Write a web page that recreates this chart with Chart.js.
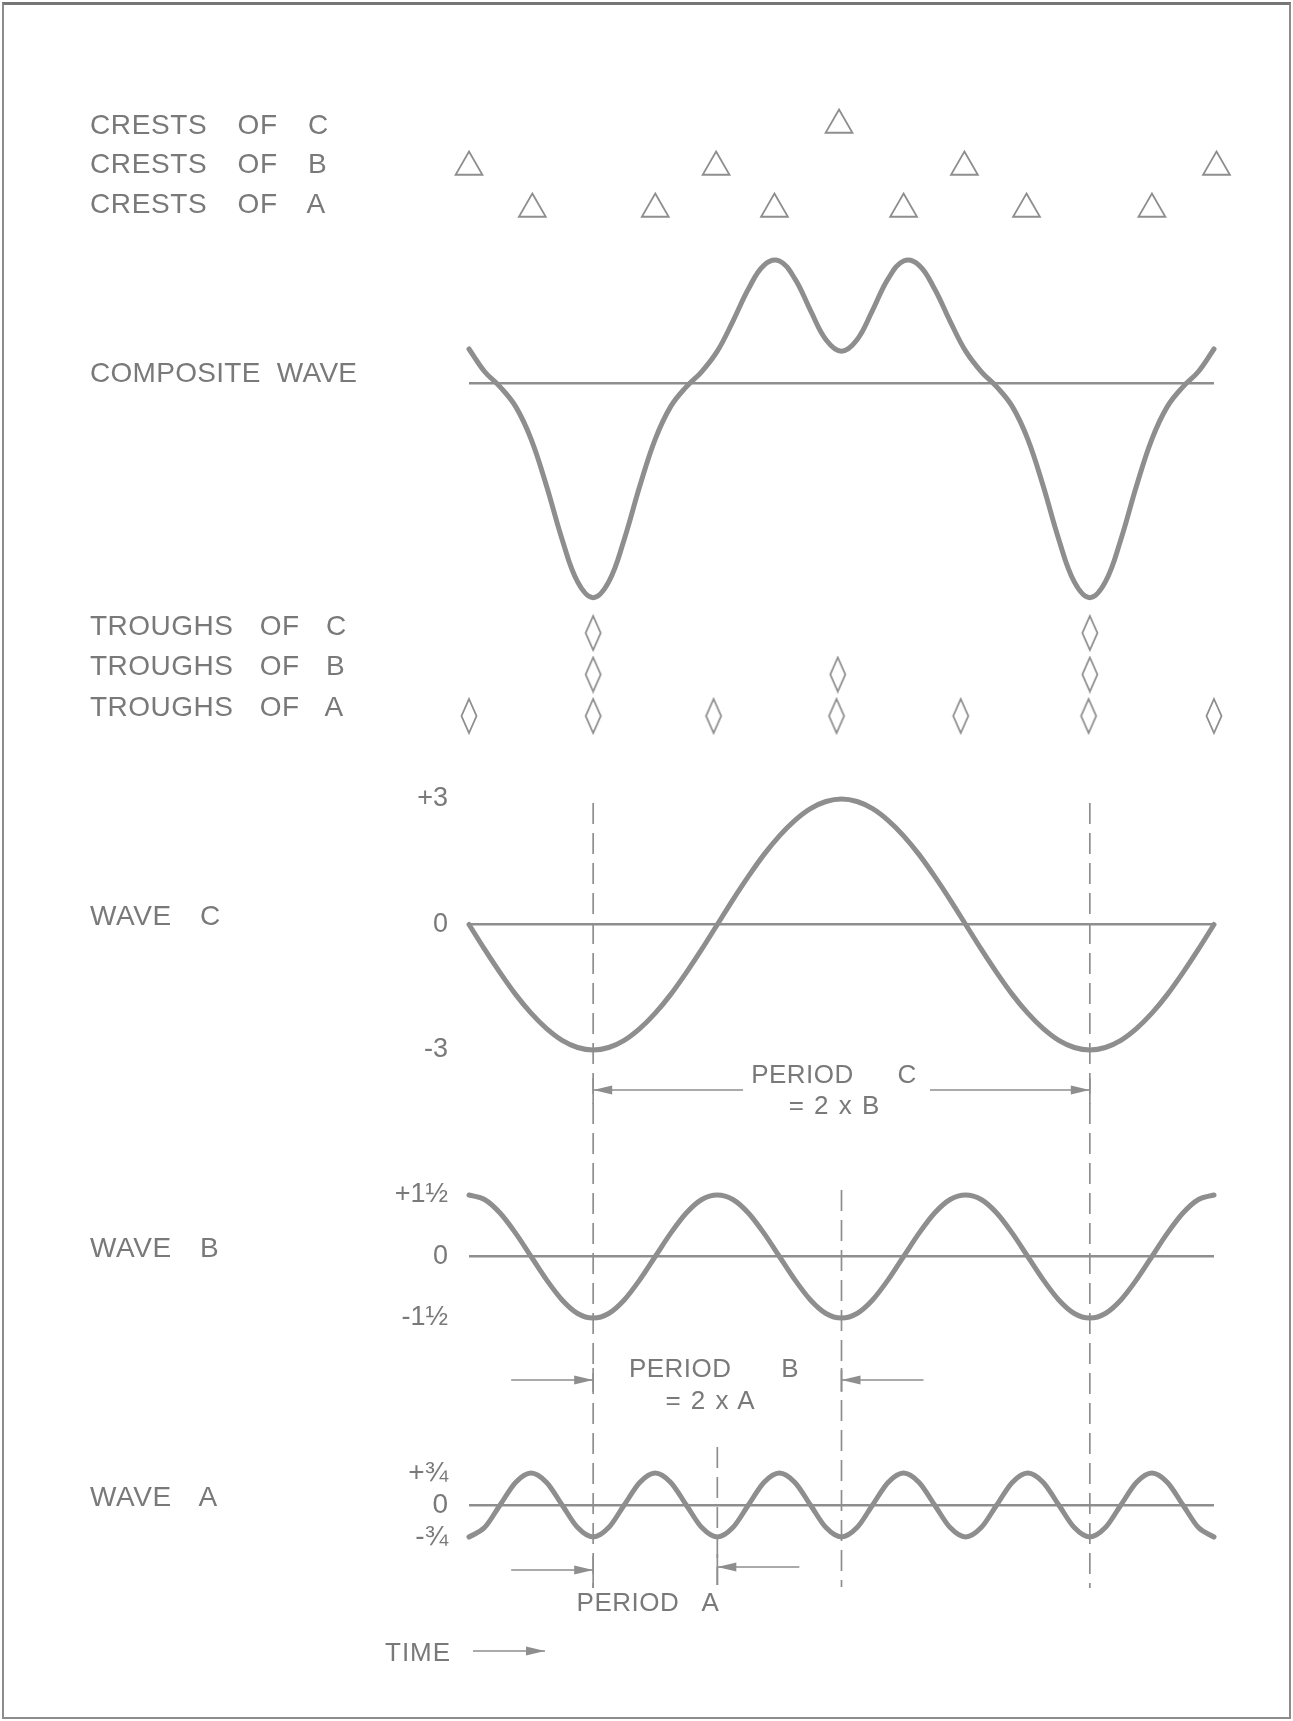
<!DOCTYPE html>
<html><head><meta charset="utf-8">
<script src="https://cdn.jsdelivr.net/npm/chart.js@4.4.1/dist/chart.umd.min.js"></script>
<style>
html,body{margin:0;padding:0;background:#fff;}
#page{position:relative;width:1293px;height:1721px;overflow:hidden;background:#fff;}
#page canvas{position:absolute;left:0;top:0;}
.lbl{position:absolute;font-family:"Liberation Sans",Arial,sans-serif;color:#797979;white-space:pre;}
#frame{position:absolute;left:2px;top:2px;width:1285px;height:1712px;border:2px solid #8c8c8c;border-top:3px solid #767676;}
</style></head>
<body><div id="page"><div id="frame"></div></div>
<script>
// ---------------- DATA ----------------
// time in units of Period A
const time = [0,0.125,0.25,0.375,0.5,0.625,0.75,0.875,1,1.125,1.25,1.375,1.5,1.625,1.75,1.875,
  2,2.125,2.25,2.375,2.5,2.625,2.75,2.875,3,3.125,3.25,3.375,3.5,3.625,3.75,3.875,
  4,4.125,4.25,4.375,4.5,4.625,4.75,4.875,5,5.125,5.25,5.375,5.5,5.625,5.75,5.875,6];
const waveA = [-0.75,-0.53,0,0.53,0.75,0.53,0,-0.53,
  -0.75,-0.53,0,0.53,0.75,0.53,0,-0.53,
  -0.75,-0.53,0,0.53,0.75,0.53,0,-0.53,
  -0.75,-0.53,0,0.53,0.75,0.53,0,-0.53,
  -0.75,-0.53,0,0.53,0.75,0.53,0,-0.53,
  -0.75,-0.53,0,0.53,0.75,0.53,0,-0.53,
  -0.75];
const waveB = [1.5,1.39,1.06,0.57,0,-0.57,-1.06,-1.39,-1.5,-1.39,-1.06,-0.57,0,0.57,1.06,1.39,
  1.5,1.39,1.06,0.57,0,-0.57,-1.06,-1.39,-1.5,-1.39,-1.06,-0.57,0,0.57,1.06,1.39,
  1.5,1.39,1.06,0.57,0,-0.57,-1.06,-1.39,-1.5,-1.39,-1.06,-0.57,0,0.57,1.06,1.39,
  1.5];
const waveC = [0,-0.59,-1.15,-1.67,-2.12,-2.49,-2.77,-2.94,-3,-2.94,-2.77,-2.49,-2.12,-1.67,-1.15,-0.59,
  0,0.59,1.15,1.67,2.12,2.49,2.77,2.94,3,2.94,2.77,2.49,2.12,1.67,1.15,0.59,
  0,-0.59,-1.15,-1.67,-2.12,-2.49,-2.77,-2.94,-3,-2.94,-2.77,-2.49,-2.12,-1.67,-1.15,-0.59,
  0];
const composite = [0.80,0.27,-0.09,-0.55,-1.32,-2.43,-3.68,-4.68,-5.05,-4.68,-3.68,-2.43,-1.32,-0.55,-0.09,0.27,
  0.75,1.45,2.21,2.77,2.87,2.45,1.71,1.02,0.75,1.02,1.71,2.45,2.87,2.77,2.21,1.45,
  0.75,0.27,-0.09,-0.55,-1.32,-2.43,-3.68,-4.68,-5.05,-4.68,-3.68,-2.43,-1.32,-0.55,-0.09,0.27,
  0.80];

const crestLabels = ['CRESTS OF C','CRESTS OF B','CRESTS OF A'];
const troughLabels = ['TROUGHS OF C','TROUGHS OF B','TROUGHS OF A'];
const rowIndex = [3,2,1];
const crestC = [2.98];
const crestB = [0,1.99,3.99,6.02];
const crestA = [0.51,1.5,2.46,3.5,4.49,5.5];
const troughC = [1,5];
const troughB = [1,2.97,5];
const troughA = [0,1,1.97,2.96,3.96,4.99,6];

const compositeTicks = [0];
const compositeTickLabels = [''];
const waveCTicks = [-3,0,3];
const waveCTickLabels = ['-3','0','+3'];
const waveBTicks = [-1.5,0,1.5];
const waveBTickLabels = ['-1\u00BD','0','+1\u00BD'];
const waveATicks = [-0.75,0,0.75];
const waveATickLabels = ['-\u00BE','0','+\u00BE'];

const panelLabels = ['COMPOSITE WAVE','WAVE C','WAVE B','WAVE A'];
const guideTimes = [1,5,3,2];          // dashed vertical guides
const periodCSpan = [1,5];
const periodBSpan = [1,3];
const periodASpan = [1,2];
const periodTexts = ['PERIOD C','= 2 x B','PERIOD B','= 2 x A','PERIOD A','TIME'];

// ---------------- LAYOUT ----------------
const W = 1293, H = 1721, PLOT_L = 469, PLOT_R = 1214, AXIS_W = 100;
const LINE = '#8e8e8e', TEXT = '#797979';
const FONT = '"Liberation Sans", Arial, sans-serif';
const page = document.getElementById('page');

function addCanvas(){
  const c = document.createElement('canvas');
  c.width = W; c.height = H; c.style.width = W+'px'; c.style.height = H+'px';
  page.appendChild(c); return c;
}
function yAxis(min,max,vals,labels,showTicks,showZero,fontSize){
  return {type:'linear', min:min, max:max, position:'left',
    afterFit: s => { s.width = AXIS_W; },
    afterBuildTicks: s => { s.ticks = vals.map(v => ({value:v})); },
    ticks:{display:showTicks, autoSkip:false, padding:21, color:TEXT,
      font:{family:FONT,size:fontSize||26}, callback:(v)=>labels[vals.indexOf(v)]},
    grid:{display:showZero, drawTicks:false, lineWidth:2.5,
      color: c => (c.tick && c.tick.value === 0) ? LINE : 'rgba(0,0,0,0)'},
    border:{display:false}
  };
}
function makeChart(type, top, bottom, yScale, datasets, plugins){
  return new Chart(addCanvas(), {
    type: type,
    data: {datasets: datasets},
    options: {
      responsive:false, animation:false, events:[], devicePixelRatio:1,
      layout:{padding:{left:PLOT_L-AXIS_W, right:W-PLOT_R, top:top, bottom:H-bottom}},
      plugins:{legend:{display:false}, tooltip:{enabled:false}},
      scales:{x:{type:'linear', min:0, max:6, display:false}, y:yScale}
    },
    plugins: plugins || []
  });
}
function waveSet(values, mono){
  const ds = {data: time.map((t,i)=>({x:t, y:values[i]})), borderColor:LINE, borderWidth:5,
    pointRadius:0, clip:false, fill:false, borderCapStyle:'round', borderJoinStyle:'round'};
  if (mono) ds.cubicInterpolationMode = 'monotone'; else ds.tension = 0.4;
  return ds;
}

// diamond marker image
const diamond = document.createElement('canvas');
diamond.width = 20; diamond.height = 38;
(function(){ const g = diamond.getContext('2d'); g.strokeStyle = LINE; g.lineWidth = 1.8;
  g.beginPath(); g.moveTo(10,2); g.lineTo(17.5,19); g.lineTo(10,36); g.lineTo(2.5,19); g.closePath(); g.stroke(); })();

function markerSet(ts,row,style){
  return {data: ts.map(t=>({x:t,y:row})), pointStyle:style, pointRadius: style==='triangle'?15.5:10,
    borderColor:LINE, borderWidth:1.8, backgroundColor:'rgba(0,0,0,0)', clip:false, showLine:false};
}

// ---------- annotation plugin (dashed guides + period arrows) ----------
const guideExtent = {1:[803,1588], 5:[803,1588], 3:[1190,1587], 2:[1447,1585]};
function arrowHead(ctx,x,y,dir){
  ctx.beginPath(); ctx.moveTo(x,y); ctx.lineTo(x-dir*19,y-4.5); ctx.lineTo(x-dir*19,y+4.5); ctx.closePath(); ctx.fill();
}
function hLine(ctx,x0,x1,y){ ctx.beginPath(); ctx.moveTo(x0,y); ctx.lineTo(x1,y); ctx.stroke(); }
function vLine(ctx,x,y0,y1){ ctx.beginPath(); ctx.moveTo(x,y0); ctx.lineTo(x,y1); ctx.stroke(); }
const annotations = {id:'annotations', afterDatasetsDraw(chart){
  const ctx = chart.ctx, xs = chart.scales.x, px = t => xs.getPixelForValue(t);
  ctx.save();
  ctx.strokeStyle = LINE; ctx.fillStyle = LINE; ctx.lineWidth = 1.7;
  ctx.setLineDash([21,9]);
  guideTimes.forEach(t => { const e = guideExtent[t]; vLine(ctx, px(t), e[0], e[1]); });
  ctx.setLineDash([]);
  // period C
  const cL = px(periodCSpan[0]), cR = px(periodCSpan[1]);
  hLine(ctx, cL, 743, 1090); arrowHead(ctx, cL, 1090, -1);
  hLine(ctx, 930, cR, 1090); arrowHead(ctx, cR, 1090, 1);
  vLine(ctx, cL, 1078, 1104); vLine(ctx, cR, 1078, 1104);
  // period B
  const bL = px(periodBSpan[0]), bR = px(periodBSpan[1]);
  hLine(ctx, bL-82, bL, 1380); arrowHead(ctx, bL, 1380, 1);
  hLine(ctx, bR, bR+82, 1380); arrowHead(ctx, bR, 1380, -1);
  vLine(ctx, bL, 1368, 1392); vLine(ctx, bR, 1368, 1392);
  // period A
  const aL = px(periodASpan[0]), aR = px(periodASpan[1]);
  hLine(ctx, aL-82, aL, 1570); arrowHead(ctx, aL, 1570, 1);
  hLine(ctx, aR, aR+82, 1567); arrowHead(ctx, aR, 1567, -1);
  vLine(ctx, aL, 1556, 1588); vLine(ctx, aR, 1554, 1585);
  // time arrow
  hLine(ctx, 473, 545, 1651); arrowHead(ctx, 545, 1651, 1);
  ctx.restore();
}};

// ---------------- CHARTS ----------------
// crest markers
makeChart('scatter', 104, 230, yAxis(0.5,3.5,[],[],false,false), [
  markerSet(crestC, rowIndex[0], 'triangle'),
  markerSet(crestB, rowIndex[1], 'triangle'),
  markerSet(crestA, rowIndex[2], 'triangle')]);
// composite wave
makeChart('line', 234.25, 616.75, yAxis(-5.5,3.5,compositeTicks,compositeTickLabels,false,true), [waveSet(composite,false)]);
// trough markers
makeChart('scatter', 612.25, 736.75, yAxis(0.5,3.5,[],[],false,false), [
  markerSet(troughC, rowIndex[0], diamond),
  markerSet(troughB, rowIndex[1], diamond),
  markerSet(troughA, rowIndex[2], diamond)]);
// wave C (+ annotations)
makeChart('line', 799, 1050, yAxis(-3,3,waveCTicks,waveCTickLabels,true,true,27), [waveSet(waveC,true)], [annotations]);
// wave B
makeChart('line', 1195, 1318, yAxis(-1.5,1.5,waveBTicks,waveBTickLabels,true,true,27), [waveSet(waveB,true)]);
// wave A
makeChart('line', 1473, 1537, yAxis(-0.75,0.75,waveATicks,waveATickLabels,true,true,28), [waveSet(waveA,true)]);

// ---------------- TEXT ----------------
function addText(str, x, cy, size, spacing, center, letter){
  const d = document.createElement('div');
  d.className = 'lbl'; d.textContent = str;
  d.style.fontSize = size+'px'; d.style.lineHeight = size+'px';
  d.style.wordSpacing = spacing+'px';
  if (letter) d.style.letterSpacing = letter+'px';
  d.style.left = x+'px'; d.style.top = (cy - size*0.49)+'px';
  if (center) d.style.transform = 'translateX(-50%)';
  page.appendChild(d);
}
const crestY = [125,164,204], troughY = [626,666,707];
crestLabels.forEach((s,i)=>addText(s, 90, crestY[i], 28, 22, false, 0.6));
troughLabels.forEach((s,i)=>addText(s, 90, troughY[i], 28, 18, false, 0.5));
const panelY = [373,916,1248,1497];
addText(panelLabels[0], 90, panelY[0], 28, 8, false, 0.3);
panelLabels.slice(1).forEach((s,i)=>addText(s, 90, panelY[i+1], 28, 20, false, 0.6));
addText(periodTexts[0], 834, 1074, 26, 36, true, 0.5);
addText(periodTexts[1], 834, 1105, 26, 3, true);
addText(periodTexts[2], 714, 1368, 26, 42, true, 0.5);
addText(periodTexts[3], 710, 1400, 26, 3, true);
addText(periodTexts[4], 648, 1602, 26, 16, true, 0.5);
addText(periodTexts[5], 385, 1652, 26, 0, false, 1);
</script>
</body></html>
